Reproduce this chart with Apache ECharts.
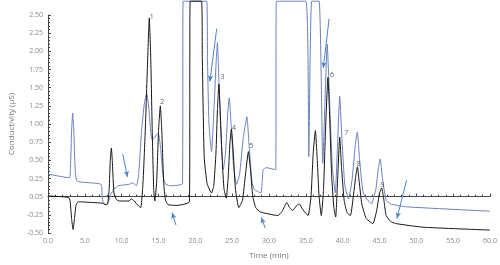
<!DOCTYPE html>
<html><head><meta charset="utf-8">
<script src="https://cdn.jsdelivr.net/npm/echarts@6/dist/echarts.min.js"></script>
<style>html,body{margin:0;padding:0;background:#fff}#c{width:500px;height:265px}</style>
</head><body><div id="c"></div>
<script>
// Black trace (time min, conductivity µS)
var blackTrace = [[0,0.01],[2.8,-0.01],[3.0,-0.06],[3.2,-0.3],[3.4,-0.45],[3.6,-0.3],[3.8,-0.12],[4.1,-0.07],[6,-0.08],[7.4,-0.09],[7.8,-0.11],[8.1,-0.1],[8.3,0.1],[8.45,0.5],[8.6,0.67],[8.75,0.45],[8.95,0.05],[9.3,-0.04],[9.7,-0.06],[11.0,-0.06],[11.3,-0.03],[11.7,-0.06],[12.3,-0.13],[12.6,-0.15],[12.9,0.2],[13.2,0.9],[13.5,1.8],[13.75,2.46],[13.95,1.9],[14.15,0.9],[14.35,0.1],[14.5,-0.06],[14.75,0.2],[15.0,0.9],[15.25,1.25],[15.45,0.9],[15.7,0.2],[15.95,-0.05],[16.3,-0.11],[17.5,-0.12],[19.2,-0.07],[19.3,2.69],[20.85,2.69],[20.95,1.9],[21.2,0.55],[21.6,0.18],[22.2,0.05],[22.5,0.15],[22.8,0.6],[23.0,1.2],[23.2,1.55],[23.4,1.1],[23.65,0.5],[23.9,0.1],[24.2,-0.02],[24.45,0.25],[24.7,0.75],[24.9,0.93],[25.15,0.6],[25.45,0.1],[25.9,-0.15],[26.4,-0.05],[26.8,0.3],[27.2,0.62],[27.5,0.35],[27.8,0.0],[28.2,-0.15],[28.8,-0.21],[31.2,-0.26],[31.8,-0.2],[32.4,-0.08],[32.8,-0.15],[33.2,-0.19],[33.7,-0.13],[34.1,-0.1],[34.6,-0.18],[35.3,-0.26],[35.7,0.0],[36.0,0.6],[36.3,0.91],[36.55,0.5],[36.8,0.0],[37.1,-0.26],[37.4,0.1],[37.7,1.0],[38.0,1.64],[38.2,1.2],[38.5,0.3],[38.8,-0.15],[39.05,-0.28],[39.3,0.2],[39.6,0.82],[39.85,0.4],[40.2,-0.05],[40.6,-0.22],[41.05,-0.26],[41.5,0.05],[41.8,0.3],[42.0,0.41],[42.25,0.2],[42.6,-0.1],[43.2,-0.3],[44.1,-0.37],[44.6,-0.2],[45.0,0.05],[45.3,0.12],[45.6,-0.05],[45.9,-0.26],[46.5,-0.34],[47.2,-0.37],[50.9,-0.42],[60,-0.46]];

// Blue trace
var blueTrace = [[0,0.31],[2.9,0.26],[3.05,0.4],[3.2,0.9],[3.35,1.15],[3.5,0.9],[3.7,0.35],[3.9,0.22],[4.5,0.2],[7.2,0.17],[7.35,0.0],[7.5,-0.08],[7.9,-0.11],[8.2,-0.07],[8.5,0.03],[8.8,0.08],[9.0,0.12],[9.2,0.12],[9.5,0.15],[11.0,0.17],[11.5,0.19],[12.0,0.15],[12.3,0.3],[12.7,0.9],[13.1,1.3],[13.4,1.42],[13.7,1.2],[13.9,0.95],[14.1,0.79],[14.4,0.8],[14.8,0.86],[15.05,0.85],[15.3,0.65],[15.6,0.3],[15.9,0.18],[16.5,0.15],[18.25,0.18],[18.35,2.69],[21.55,2.69],[21.65,1.9],[21.85,0.99],[22.2,0.62],[22.6,1.36],[22.85,1.9],[23.0,2.12],[23.2,1.6],[23.5,0.8],[23.8,0.37],[24.1,0.6],[24.4,1.15],[24.6,1.36],[24.85,1.0],[25.2,0.4],[25.6,0.17],[26.0,0.3],[26.5,0.8],[27.0,1.1],[27.3,0.7],[27.7,0.2],[28.0,0.1],[28.9,0.05],[29.2,0.37],[29.6,0.4],[30.9,0.37],[31.0,2.69],[35.0,2.69],[35.4,0.55],[35.8,2.69],[36.8,2.69],[37.3,0.46],[37.6,1.3],[37.9,2.1],[38.2,1.4],[38.6,0.4],[39.0,0.05],[39.3,0.7],[39.6,1.38],[39.9,0.8],[40.3,0.15],[40.8,-0.03],[41.3,0.25],[41.7,0.7],[42.0,0.89],[42.3,0.5],[42.8,0.05],[43.9,-0.1],[44.5,0.1],[44.85,0.4],[45.1,0.52],[45.4,0.25],[45.9,-0.05],[46.5,-0.1],[48.7,-0.14],[60,-0.2]];

// Peak number labels
var peakNames = ['1','2','3','4','5','6','7','8','9'];
var peakLabelT = [14.08,15.5,23.7,25.26,27.6,38.55,40.5,42.2,45.4];
var peakLabelV = [2.47,1.30,1.64,0.95,0.70,1.67,0.87,0.455,0.16];

// Arrows: [tailT, tailV, headT, headV]
var arrows = [[10.13,0.59,10.8,0.27],[17.37,-0.39,16.84,-0.22],[22.9,2.31,21.97,1.585],[29.47,-0.43,28.95,-0.285],[38.16,2.45,37.37,1.77],[48.68,0.227,47.37,-0.30]];

// Axis tick labels
var yTickLabels = ['-0.50','-0.25','0.05','0.25','0.50','0.75','1.00','1.25','1.50','1.75','2.00','2.25','2.50'];
var xTickLabels = ['0.0','5.0','10.0','15.0','20.0','25.0','30.0','35.0','40.0','45.0','50.0','55.0','60.0'];

var chart = echarts.init(document.getElementById('c'), null, {renderer:'canvas'});
var axisGray = '#444';
var labelGray = '#8a8a8a';
chart.setOption({
  animation:false,
  grid:{left:33,right:10,top:15,bottom:26},
  xAxis:{type:'value',min:0,max:60,interval:5,
    name:'Time (min)',nameLocation:'middle',nameGap:19,
    nameTextStyle:{fontFamily:'Open Sans',fontSize:8,color:'#777'},
    axisLine:{lineStyle:{color:axisGray,width:1}},
    axisTick:{inside:true,length:3,lineStyle:{color:axisGray}},
    minorTick:{show:true,splitNumber:5,length:2,lineStyle:{color:axisGray}},
    splitLine:{show:false},
    axisLabel:{fontFamily:'Open Sans',fontSize:7,color:labelGray,margin:4,
      formatter:function(v,i){return xTickLabels[i]!==undefined?xTickLabels[i]:'';}}
  },
  yAxis:{type:'value',min:-0.5,max:2.5,interval:0.25,
    name:'Conductivity (µS)',nameLocation:'middle',nameGap:24,
    nameTextStyle:{fontFamily:'Open Sans',fontSize:8,color:'#777'},
    axisLine:{show:true,lineStyle:{color:axisGray,width:1}},
    axisTick:{show:true,inside:true,length:3,lineStyle:{color:axisGray}},
    minorTick:{show:true,splitNumber:5,length:2,lineStyle:{color:axisGray}},
    splitLine:{show:false},
    axisLabel:{fontFamily:'Open Sans',fontSize:7,color:labelGray,margin:5,
      formatter:function(v,i){return yTickLabels[i]!==undefined?yTickLabels[i]:'';}}
  },
  series:[
    {type:'line',data:blueTrace,showSymbol:false,clip:false,smooth:0.15,
     lineStyle:{color:'#6b80bd',width:1},z:2,
     markLine:{silent:true,symbol:['none','arrow'],symbolSize:[4,6],label:{show:false},
       lineStyle:{color:'#4a84c4',width:1,type:'solid'},
       data:arrows.map(function(a){return [{coord:[a[0],a[1]]},{coord:[a[2],a[3]]}];})}},
    {type:'line',data:blackTrace,showSymbol:false,clip:false,smooth:0.15,
     lineStyle:{color:'#151515',width:1},z:3},
    {type:'scatter',symbolSize:0,z:4,
     data:peakLabelT.map(function(t,i){return [t,peakLabelV[i],peakNames[i]];}),
     label:{show:true,position:'inside',formatter:function(p){return p.data[2];},
       fontFamily:'Open Sans',fontSize:7,color:'#333'}}
  ]
});
</script></body></html>
